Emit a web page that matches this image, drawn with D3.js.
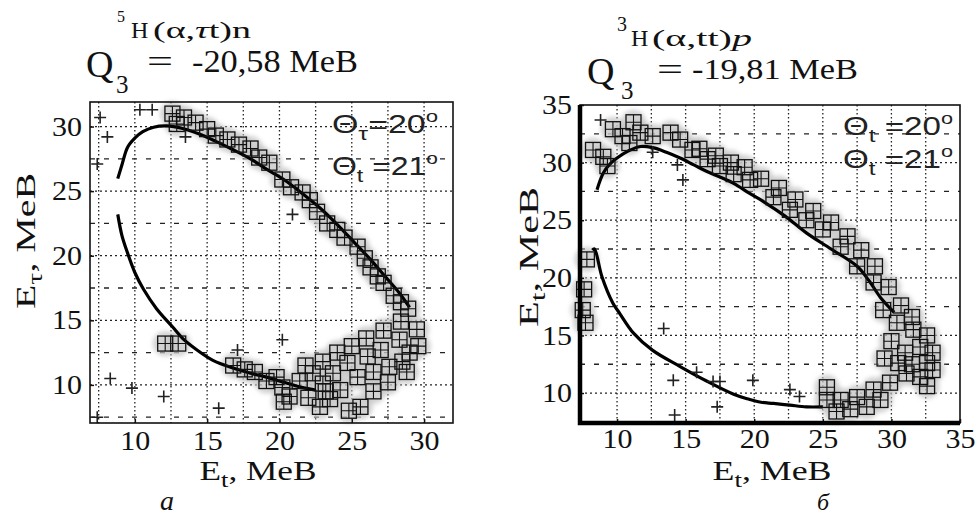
<!DOCTYPE html>
<html>
<head>
<meta charset="utf-8">
<script src="https://cdn.jsdelivr.net/npm/d3@7"></script>
<style>
  html, body { margin: 0; padding: 0; background: #fff; }
  svg { display: block; }
  .tick text { font-family: "Liberation Serif", "DejaVu Serif", serif; font-size: 27px; fill: #111; }
  .tick line { stroke: #111; stroke-width: 1.5; }
  .lbl { font-family: "Liberation Serif", serif; fill: #111; }
  .ann { font-family: "Liberation Sans", Arial, sans-serif; fill: #222; }
</style>
</head>
<body>
<div id="chart"></div>
<script>
// ---- panel a: 5H(a,tau t)n, Q3 = -20,58 MeB ----
var leftXTicks = [10, 15, 20, 25, 30];
var leftYTicks = [10, 15, 20, 25, 30];
var leftGridX = [7.5, 10, 12.5, 15, 17.5, 20, 22.5, 25, 27.5, 30];
var leftGridY = [7.5, 10, 12.5, 15, 17.5, 20, 22.5, 25, 27.5, 30];

var leftUpperCurve = [[8.82,25.97],[9.1,27.0],[9.5,28.4],[10.0,29.1],[10.55,29.6],[11.3,29.95],[12.2,30.05],
  [13.3,29.85],[14.5,29.4],[15.6,28.85],[16.8,28.2],[18.0,27.5],[19.1,26.7],[20.3,25.9],[21.6,24.8],
  [22.9,23.6],[24.1,22.3],[25.2,21.0],[26.3,19.7],[27.3,18.4],[28.3,17.1],[29.0,16.0]];
var leftLowerCurve = [[8.82,23.2],[9.1,21.6],[9.5,20.2],[10.0,18.7],[10.6,17.4],[11.5,15.9],[12.6,14.5],
  [13.3,13.6],[14.3,12.7],[15.4,11.9],[16.8,11.3],[18.0,10.9],[19.1,10.6],[20.3,10.2],[21.4,9.85],[22.5,9.6]];

var leftBand = [[12.6,31.0],[13.4,30.7],[12.9,30.2],[14.2,30.3],[15.0,29.8],[15.6,29.3],[16.4,29.0],
  [17.2,28.6],[18.0,28.3],[18.6,27.6],[19.3,27.2],[20.2,25.9],[20.8,25.3],[21.6,24.9],[22.1,24.3],
  [22.6,23.4],[23.3,22.5],[24.0,22.0],[24.5,21.4],[25.4,20.7],[25.9,19.8],[26.3,19.1],[26.8,18.4],
  [27.2,17.9],[27.9,16.9],[28.4,16.4],[28.9,15.9],
  [12.1,13.2],[13.0,13.2],[16.8,11.5],[17.6,11.2],[18.3,11.0],[19.1,10.3],[19.8,10.6],[20.2,9.8],
  [20.7,9.1],[21.4,10.3],[20.3,8.7],[22.3,10.9],[23.0,10.1],[23.7,10.9],[24.2,9.6],[24.7,11.7],
  [25.4,10.6],[26.1,12.2],[27.0,12.7],[27.6,11.4],[28.3,13.5],[29.0,12.5],[29.5,14.3],[22.8,8.3],
  [25.6,8.3],[26.5,11.0],[28.5,11.8],[23.5,8.9],
  [24.0,12.5],[25.0,13.0],[26.0,13.6],[27.2,14.2],[28.4,14.9],[23.0,11.8],[21.8,11.5],[22.0,9.0],
  [23.2,9.5],[24.8,8.0],[26.5,9.5],[27.5,10.2],[28.8,11.0],[29.6,13.0]];
var leftCrosses = [[7.6,30.7],[8.1,29.2],[7.4,27.1],[10.35,31.3],[11.2,31.3],[13.5,29.2],[20.9,23.2],
  [8.3,10.5],[9.8,9.75],[12.0,9.1],[15.8,8.2],[17.1,12.7],[20.2,13.5],[7.4,7.5]];

// ---- panel b: 3H(a,tt)p, Q3 = -19,81 MeB ----
var rightXTicks = [10, 15, 20, 25, 30, 35];
var rightYTicks = [10, 15, 20, 25, 30, 35];
var rightGridX = [10, 12.5, 15, 17.5, 20, 22.5, 25, 27.5, 30, 32.5];
var rightGridY = [10, 12.5, 15, 17.5, 20, 22.5, 25, 27.5, 30, 32.5];

var rightUpperCurve = [[8.54,27.65],[9.0,29.1],[9.5,29.9],[10.0,30.4],[10.8,31.0],[11.7,31.4],[12.6,31.3],
  [13.6,30.9],[14.6,30.4],[15.6,29.8],[16.6,29.2],[17.5,28.75],[18.5,28.2],[19.7,27.3],[20.7,26.6],
  [22.2,25.4],[23.8,23.9],[25.6,22.5],[27.5,21.0],[28.4,19.7],[29.2,18.3],[30.2,17.0]];
var rightLowerCurve = [[8.2,22.4],[8.35,22.5],[8.9,20.1],[9.7,17.8],[10.2,16.9],[11.2,15.2],[12.6,13.7],
  [14.6,12.3],[16.6,11.0],[18.5,9.9],[19.5,9.5],[20.5,9.2],[21.4,9.1],[22.6,8.95],[23.8,8.8],[25.0,8.8]];

var rightBand = [[8.25,31.1],[9.0,30.5],[9.3,29.7],[9.7,32.9],[10.4,32.3],[11.2,33.5],[11.7,32.6],
  [10.9,31.7],[12.6,32.3],[13.9,32.6],[14.6,32.0],[15.5,31.1],[16.6,30.3],[17.5,29.7],[18.5,29.0],
  [19.7,28.5],[21.4,27.0],[22.6,25.9],[23.8,25.0],[25.0,24.2],[26.3,22.7],[27.5,21.0],[28.7,19.6],
  [29.4,17.2],[30.4,16.1],[31.6,15.5],[32.1,14.0],[32.6,12.6],[32.1,11.4],
  [16.0,31.2],[17.2,30.6],[18.3,30.0],[19.3,29.6],[20.5,28.6],[21.8,27.8],[23.0,26.8],[24.3,25.8],
  [25.6,24.8],[26.8,23.6],[27.8,22.4],[28.8,21.0],[29.8,19.2],[30.7,17.6],[31.5,16.6],[32.6,15.0],
  [33.0,13.5],[33.0,12.0],[32.6,10.6],
  [31.1,11.7],[29.9,10.9],[28.7,10.3],[27.5,9.65],[26.3,9.4],[25.3,9.4],[29.2,9.4],[26.0,8.4],
  [27.0,8.6],[28.2,8.8],[25.3,10.5],[30.5,12.6],[29.5,13.0],[30.0,14.5],[31.0,13.5],[31.5,12.5],
  [7.8,21.6],[7.6,19.0],[7.5,17.2],[7.7,16.1]];
var rightCrosses = [[8.8,33.7],[14.8,28.5],[12.6,30.9],[14.4,29.8],[13.4,15.6],[14.1,11.1],[14.2,8.1],
  [15.8,11.8],[17.0,11.0],[17.5,11.0],[17.3,8.8],[19.9,11.1],[22.6,10.3],[23.3,9.7]];

var W = 977, H = 518;
var svg = d3.select('#chart').append('svg').attr('width', W).attr('height', H);

var defs = svg.append('defs');
defs.append('filter').attr('id', 'soft')
  .attr('x', '-50%').attr('y', '-50%').attr('width', '200%').attr('height', '200%')
  .append('feGaussianBlur').attr('stdDeviation', 2.2);

function drawPanel(o){
  var x = d3.scaleLinear().domain(o.xDomain).range([o.left, o.right]);
  var y = d3.scaleLinear().domain(o.yDomain).range([o.bottom, o.top]);
  var g = svg.append('g');

  // grid
  o.gridX.forEach(function(v){
    g.append('line')
      .attr('x1', x(v)).attr('x2', x(v)).attr('y1', o.top).attr('y2', o.bottom)
      .attr('stroke', '#222').attr('stroke-width', 1.3).attr('stroke-dasharray', '1.5,2.5');
  });
  o.gridY.forEach(function(v){
    g.append('line')
      .attr('x1', o.left).attr('x2', o.right).attr('y1', y(v)).attr('y2', y(v))
      .attr('stroke', '#222').attr('stroke-width', 1.3)
      .attr('stroke-dasharray', (v % 5 === 0) ? '2,3' : '5,9');
  });

  // halos
  g.append('g').attr('filter', 'url(#soft)').selectAll('circle')
    .data(o.band).enter().append('circle')
    .attr('cx', function(d){ return x(d[0]); })
    .attr('cy', function(d){ return y(d[1]); })
    .attr('r', 12.5)
    .attr('fill', '#c4c4c4').attr('fill-opacity', 0.75);

  // kinematic curves
  var line = d3.line()
    .x(function(d){ return x(d[0]); })
    .y(function(d){ return y(d[1]); })
    .curve(d3.curveCatmullRom);
  o.curves.forEach(function(c){
    g.append('path').attr('d', line(c))
      .attr('fill', 'none').attr('stroke', '#000').attr('stroke-width', 3.2);
  });

  // boxes
  var box = g.append('g').selectAll('g').data(o.band).enter().append('g')
    .attr('transform', function(d){ return 'translate(' + x(d[0]) + ',' + y(d[1]) + ')'; });
  box.append('rect').attr('x', -7.5).attr('y', -7.5).attr('width', 15).attr('height', 15)
    .attr('fill', 'none').attr('stroke', '#111').attr('stroke-width', 1.3);
  box.append('path').attr('d', 'M-7.5,0H7.5M0,-7.5V7.5')
    .attr('stroke', '#111').attr('stroke-width', 1.1);

  // loose events
  g.append('g').selectAll('path').data(o.crosses).enter().append('path')
    .attr('transform', function(d){ return 'translate(' + x(d[0]) + ',' + y(d[1]) + ')'; })
    .attr('d', 'M-6,0H6M0,-6V6')
    .attr('stroke', '#222').attr('stroke-width', 1.6);

  // axes
  var xa = g.append('g').attr('transform', 'translate(0,' + o.bottom + ')')
    .call(d3.axisBottom(x).tickValues(o.xTicks).tickSizeInner(-4).tickSizeOuter(0).tickPadding(o.xPad));
  xa.select('.domain').remove();
  var ya = g.append('g').attr('transform', 'translate(' + o.left + ',0)')
    .call(d3.axisLeft(y).tickValues(o.yTicks).tickSizeInner(-4).tickSizeOuter(0).tickPadding(8));
  ya.select('.domain').remove();
  g.selectAll('.tick text').attr('textLength', 30).attr('lengthAdjust', 'spacingAndGlyphs');

  // frame
  g.append('rect').attr('x', o.left).attr('y', o.top)
    .attr('width', o.right - o.left).attr('height', o.bottom - o.top)
    .attr('fill', 'none').attr('stroke', '#111').attr('stroke-width', 1.6);
  if(o.thick){
    g.append('path')
      .attr('d', 'M' + o.left + ',' + o.top + 'V' + o.bottom + 'H' + o.right)
      .attr('fill', 'none').attr('stroke', '#000').attr('stroke-width', 4.5);
  }
  return g;
}

drawPanel({
  left: 90, right: 453, top: 102, bottom: 423,
  xDomain: [6.9, 32], yDomain: [7.05, 31.9],
  xTicks: leftXTicks, yTicks: leftYTicks, gridX: leftGridX, gridY: leftGridY,
  curves: [leftUpperCurve, leftLowerCurve], band: leftBand, crosses: leftCrosses,
  xPad: 8, thick: false
});
drawPanel({
  left: 580, right: 960, top: 105, bottom: 423,
  xDomain: [7.3, 35], yDomain: [7.4, 35],
  xTicks: rightXTicks, yTicks: rightYTicks, gridX: rightGridX, gridY: rightGridY,
  curves: [rightUpperCurve, rightLowerCurve], band: rightBand, crosses: rightCrosses,
  xPad: 6, thick: true
});

// ---- texts ----
function txt(xp, yp, s, size, extra){
  var t = svg.append('text').attr('class', 'lbl').attr('x', xp).attr('y', yp)
    .attr('font-size', size).text(s);
  if(extra && extra.len) t.attr('textLength', extra.len).attr('lengthAdjust', extra.adj || 'spacingAndGlyphs');
  if(extra && extra.italic) t.attr('font-style', 'italic');
  return t;
}

// reaction titles
txt(117, 22, '5', 16);
txt(131, 38, 'H', 24);
var r1 = txt(153, 38, '', 24, {len: 98});
r1.append('tspan').text('(α,');
r1.append('tspan').attr('font-style', 'italic').text('τ');
r1.append('tspan').text('t)n');

txt(617, 31, '3', 20);
txt(631, 46, 'H', 24);
var r2 = txt(652, 46, '', 24, {len: 100});
r2.append('tspan').text('(α,tt)');
r2.append('tspan').attr('font-style', 'italic').text('p');

// Q values
txt(86, 77, 'Q', 38);
txt(116, 93, '3', 25);
txt(147, 72, '=', 32, {len: 26});
txt(192, 72, '-20,58 MeB', 31, {len: 166});

txt(587, 84, 'Q', 38);
txt(621, 99, '3', 25);
txt(657, 80, '=', 32, {len: 26});
txt(692, 79, '-19,81 MeB', 30, {len: 166});

// angle annotations
function angle(xp, yp, s, deg, len){
  var t = svg.append('text').attr('class', 'ann').attr('x', xp).attr('y', yp).attr('font-size', 26)
    .attr('textLength', len).attr('lengthAdjust', 'spacingAndGlyphs');
  t.append('tspan').text('Θ');
  t.append('tspan').attr('font-size', 19).attr('dy', 7).text(s);
  t.append('tspan').attr('dy', -7).text(s === 't' ? ' =' + deg : '=' + deg);
  t.append('tspan').attr('font-size', 17).attr('dy', -11).text('o');
}
angle(332, 133, 'τ', '20', 106);
angle(332, 175, 't', '21', 106);
angle(843, 135, 't', '20', 110);
angle(843, 168, 't', '21', 110);

// axis titles
function axisTitle(xp, yp, s, rot, len){
  var t = svg.append('text').attr('class', 'lbl').attr('font-size', 28)
    .attr('text-anchor', 'middle')
    .attr('textLength', len).attr('lengthAdjust', 'spacingAndGlyphs')
    .attr('transform', 'translate(' + xp + ',' + yp + ')' + (rot ? ' rotate(-90)' : ''));
  t.append('tspan').text('E');
  t.append('tspan').attr('font-size', 21).attr('dy', 7).text(s);
  t.append('tspan').attr('dy', -7).text(', MeB');
}
axisTitle(35, 241, 'τ', true, 136);
axisTitle(258, 480, 't', false, 117);
axisTitle(538, 257, 't', true, 140);
axisTitle(772, 480, 't', false, 119);

txt(160, 510, 'a', 28, {italic: true});
txt(817, 510, 'б', 24, {italic: true});
</script>
</body>
</html>
